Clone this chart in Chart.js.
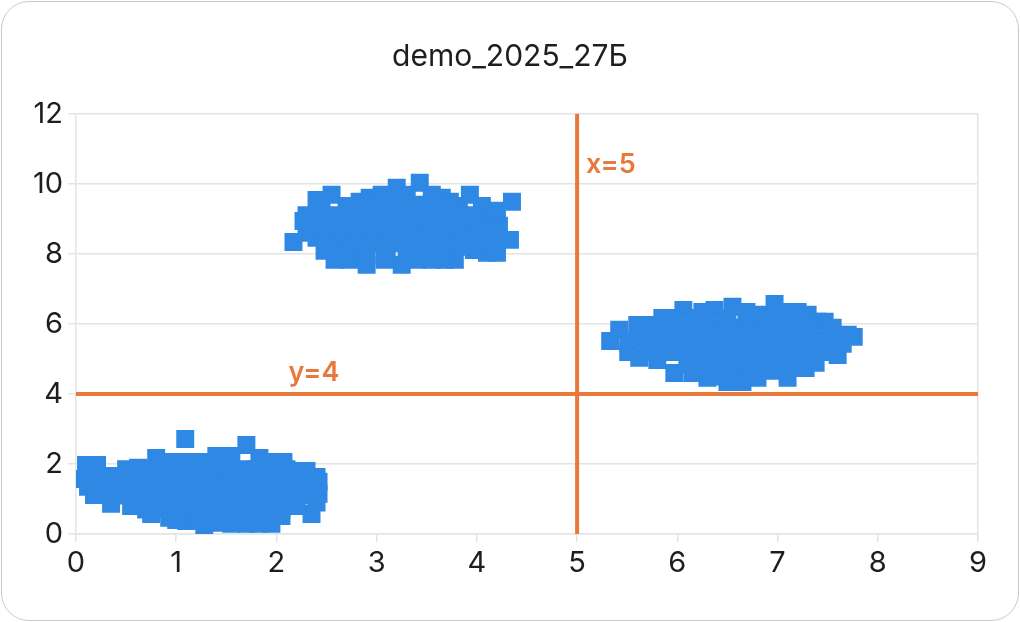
<!DOCTYPE html>
<html>
<head>
<meta charset="utf-8">
<script src="https://cdn.jsdelivr.net/npm/chart.js@4.4.1/dist/chart.umd.min.js"></script>
<style>
  html, body { margin: 0; padding: 0; background: #fff; }
  .wrap { position: relative; width: 1020px; height: 622px; }
  .frame { position: absolute; left: 1px; top: 1px; right: 1px; bottom: 1px; border: 1.5px solid #c9c9c9; border-radius: 28px; pointer-events: none; }
</style>
</head>
<body>
<div class="wrap">
  <canvas id="chart" width="1020" height="622"></canvas>
  <div class="frame"></div>
</div>
<script>
// данные: три облака точек
const clusterA = [
    [0.04,1.57],[0.1,1.97],[0.21,1.97],[0.35,1.66],[0.5,1.85],[0.62,1.89],[0.8,2.17],[0.95,2.06],
    [1.1,2.06],[1.25,2.06],[1.09,2.71],[1.4,2.23],[1.55,2.23],[1.7,2.54],[1.83,2.17],[1.95,2.06],
    [2.07,2.06],[2.2,1.8],[2.3,1.8],[2.4,1.63],[2.42,1.49],[2.42,1.15],[2.4,0.9],[2.35,0.57],
    [2.2,0.8],[2.05,0.51],[1.95,0.29],[1.82,0.29],[1.7,0.29],[1.55,0.29],[1.43,0.32],[1.28,0.17],
    [1.1,0.37],[0.93,0.46],[0.75,0.57],[0.55,0.8],[0.35,0.86],[0.18,1.11],[0.12,1.35],
    [0.2,1.5],[0.35,1.5],[0.5,1.5],[0.65,1.5],[0.8,1.5],[0.95,1.5],[1.1,1.5],[1.25,1.5],
    [1.4,1.5],[1.55,1.5],[1.7,1.5],[1.85,1.5],[2.0,1.5],[2.15,1.5],[2.3,1.5],
    [0.35,1.1],[0.5,1.1],[0.65,1.1],[0.8,1.1],[0.95,1.1],[1.1,1.1],[1.25,1.1],[1.4,1.1],
    [1.55,1.1],[1.7,1.1],[1.85,1.1],[2.0,1.1],[2.15,1.1],[2.3,1.1],
    [0.7,0.7],[0.85,0.7],[1.0,0.7],[1.15,0.7],[1.3,0.7],[1.45,0.7],[1.6,0.7],[1.75,0.7],[1.9,0.7],[2.05,0.7],
    [0.75,1.85],[0.9,1.85],[1.05,1.85],[1.2,1.85],[1.35,1.85],[1.5,1.85],[1.65,1.85],[1.8,1.85],[1.95,1.85],[2.1,1.85],
    [1.0,0.4],[1.2,0.4],[1.35,0.4],[1.6,0.4],[1.75,0.4],[1.9,0.4]
];
const clusterB = [
    [2.17,8.34],[2.27,8.94],[2.4,9.54],[2.55,9.69],[2.7,9.37],[2.83,9.49],[2.93,9.6],[3.05,9.69],
    [3.2,9.89],[3.3,9.69],[3.43,10.03],[3.55,9.69],[3.65,9.6],[3.73,9.49],[3.82,9.37],[3.93,9.69],
    [4.05,9.37],[4.12,9.14],[4.2,9.23],[4.35,9.49],[4.33,8.4],[4.22,8.8],[4.2,8.03],[4.1,8.03],
    [3.97,8.11],[3.85,8.2],[3.78,7.83],[3.68,7.83],[3.55,7.83],[3.4,7.83],[3.25,7.69],[3.08,7.83],
    [2.9,7.69],[2.73,7.83],[2.58,7.83],[2.48,8.09],[2.4,8.46],[2.3,8.6],
    [2.55,8.3],[2.7,8.3],[2.85,8.3],[3.0,8.3],[3.15,8.3],[3.3,8.3],[3.45,8.3],[3.6,8.3],[3.75,8.3],[3.9,8.3],[4.05,8.3],[4.2,8.3],
    [2.35,8.7],[2.5,8.7],[2.65,8.7],[2.8,8.7],[2.95,8.7],[3.1,8.7],[3.25,8.7],[3.4,8.7],[3.55,8.7],[3.7,8.7],[3.85,8.7],[4.0,8.7],[4.15,8.7],
    [2.3,9.1],[2.45,9.1],[2.6,9.1],[2.75,9.1],[2.9,9.1],[3.05,9.1],[3.2,9.1],[3.35,9.1],[3.5,9.1],[3.65,9.1],[3.8,9.1],[3.95,9.1],
    [2.45,9.4],[2.9,9.4],[3.1,9.4],[3.25,9.4],[3.4,9.4],[3.55,9.4],
    [2.7,7.95],[2.9,7.95],[3.1,7.95],[3.3,7.95],[3.5,7.95],[3.65,7.95]
];
const clusterC = [
    [5.33,5.51],[5.42,5.83],[5.51,5.45],[5.51,5.2],[5.6,5.97],[5.7,5.97],[5.62,5.03],[5.8,4.97],
    [5.85,6.17],[5.95,6.17],[5.97,4.6],[6.06,6.4],[6.15,6.17],[6.25,6.34],[6.37,6.4],[6.55,6.49],
    [6.69,6.34],[6.8,6.26],[6.97,6.57],[7.1,6.34],[7.2,6.34],[7.3,6.26],[7.4,6.06],[7.47,6.06],
    [7.55,5.89],[7.7,5.69],[7.76,5.63],[7.65,5.43],[7.6,5.11],[7.38,4.89],[7.28,4.74],[7.18,4.74],
    [7.1,4.46],[6.95,4.66],[6.8,4.46],[6.65,4.34],[6.5,4.34],[6.38,4.5],[6.3,4.46],[6.15,4.6],
    [6.1,4.85],[6.25,4.85],[6.4,4.85],[6.55,4.85],[6.7,4.85],[6.85,4.85],[7.0,4.85],[7.15,4.85],
    [5.7,5.2],[5.85,5.2],[6.0,5.2],[6.15,5.2],[6.3,5.2],[6.45,5.2],[6.6,5.2],[6.75,5.2],[6.9,5.2],[7.05,5.2],[7.2,5.2],[7.35,5.2],[7.5,5.2],
    [5.6,5.55],[5.75,5.55],[5.9,5.55],[6.05,5.55],[6.2,5.55],[6.35,5.55],[6.5,5.55],[6.65,5.55],[6.8,5.55],[6.95,5.55],[7.1,5.55],[7.25,5.55],[7.4,5.55],[7.55,5.55],
    [5.8,5.9],[5.95,5.9],[6.1,5.9],[6.25,5.9],[6.4,5.9],[6.55,5.9],[6.7,5.9],[6.85,5.9],[7.0,5.9],[7.15,5.9],[7.3,5.9],
    [6.3,6.15],[6.5,6.15],[6.9,6.15],[7.05,6.15]
];

// опорные линии и подписи
const vLineX = 5;
const hLineY = 4;
const vLineLabel = 'x=5';
const hLineLabel = 'y=4';
const chartTitle = 'demo_2025_27Б';

const xTickValues = [0, 1, 2, 3, 4, 5, 6, 7, 8, 9];
const yTickValues = [0, 2, 4, 6, 8, 10, 12];

const BLUE = '#2E88E4';
const ORANGE = '#E8793B';
const GRID = '#e4e4e4';
const FONT = 'Inter, "Noto Sans", sans-serif';

const toPoints = arr => arr.map(p => ({ x: p[0], y: p[1] }));

// подписи у линий + заголовок по центру холста
const lineLabels = {
    id: 'lineLabels',
    afterDatasetsDraw(chart) {
        const { ctx, scales: { x, y } } = chart;
        ctx.save();
        ctx.font = '600 27px ' + FONT;
        ctx.fillStyle = ORANGE;
        ctx.textBaseline = 'middle';
        ctx.textAlign = 'left';
        ctx.fillText(vLineLabel, x.getPixelForValue(vLineX) + 9, y.getPixelForValue(10.55));
        ctx.fillText(hLineLabel, x.getPixelForValue(2.12), y.getPixelForValue(hLineY) - 21);
        ctx.restore();
    },
    afterDraw(chart) {
        const ctx = chart.ctx;
        ctx.save();
        ctx.font = '30px ' + FONT;
        ctx.fillStyle = '#1e1e1e';
        ctx.textAlign = 'center';
        ctx.textBaseline = 'middle';
        ctx.fillText(chartTitle, chart.width / 2, 57);
        ctx.restore();
    }
};

const ctx = document.getElementById('chart').getContext('2d');
new Chart(ctx, {
    data: {
        datasets: [
            {
                type: 'line',
                data: [{ x: vLineX, y: yTickValues[0] }, { x: vLineX, y: yTickValues[yTickValues.length - 1] }],
                borderColor: ORANGE,
                borderWidth: 4,
                pointRadius: 0,
                order: 0
            },
            {
                type: 'line',
                data: [{ x: xTickValues[0], y: hLineY }, { x: xTickValues[xTickValues.length - 1], y: hLineY }],
                borderColor: ORANGE,
                borderWidth: 4,
                pointRadius: 0,
                order: 0
            },
            {
                type: 'scatter',
                data: toPoints(clusterA.concat(clusterB, clusterC)),
                pointStyle: 'rect',
                pointRadius: 12.7,
                backgroundColor: BLUE,
                borderWidth: 0,
                order: 1
            }
        ]
    },
    options: {
        responsive: false,
        animation: false,
        layout: { padding: { left: 0, right: 42, top: 0, bottom: 0 } },
        plugins: {
            legend: { display: false },
            tooltip: { enabled: false },
            // место под заголовок держит штатный title, текст рисует плагин
            title: {
                display: true,
                text: chartTitle,
                color: 'transparent',
                font: { family: FONT, size: 29, weight: 'normal' },
                padding: { top: 40, bottom: 39 }
            }
        },
        scales: {
            x: {
                type: 'linear',
                min: xTickValues[0],
                max: xTickValues[xTickValues.length - 1],
                afterBuildTicks: s => { s.ticks = xTickValues.map(v => ({ value: v })); },
                afterFit: s => { s.height = 88; },
                ticks: { color: '#1e1e1e', font: { family: FONT, size: 29 }, padding: 4 },
                grid: {
                    color: c => (c.index === xTickValues.length - 1 ? GRID : 'transparent'),
                    tickColor: GRID,
                    lineWidth: 1.5
                },
                border: { color: GRID, width: 1.5 }
            },
            y: {
                min: yTickValues[0],
                max: yTickValues[yTickValues.length - 1],
                afterBuildTicks: s => { s.ticks = yTickValues.map(v => ({ value: v })); },
                afterFit: s => { s.width = 76; },
                ticks: { color: '#1e1e1e', font: { family: FONT, size: 29 }, padding: 5 },
                grid: { color: GRID, tickColor: GRID, lineWidth: 1.5 },
                border: { color: GRID, width: 1.5 }
            }
        }
    },
    plugins: [lineLabels]
});
</script>
</body>
</html>
